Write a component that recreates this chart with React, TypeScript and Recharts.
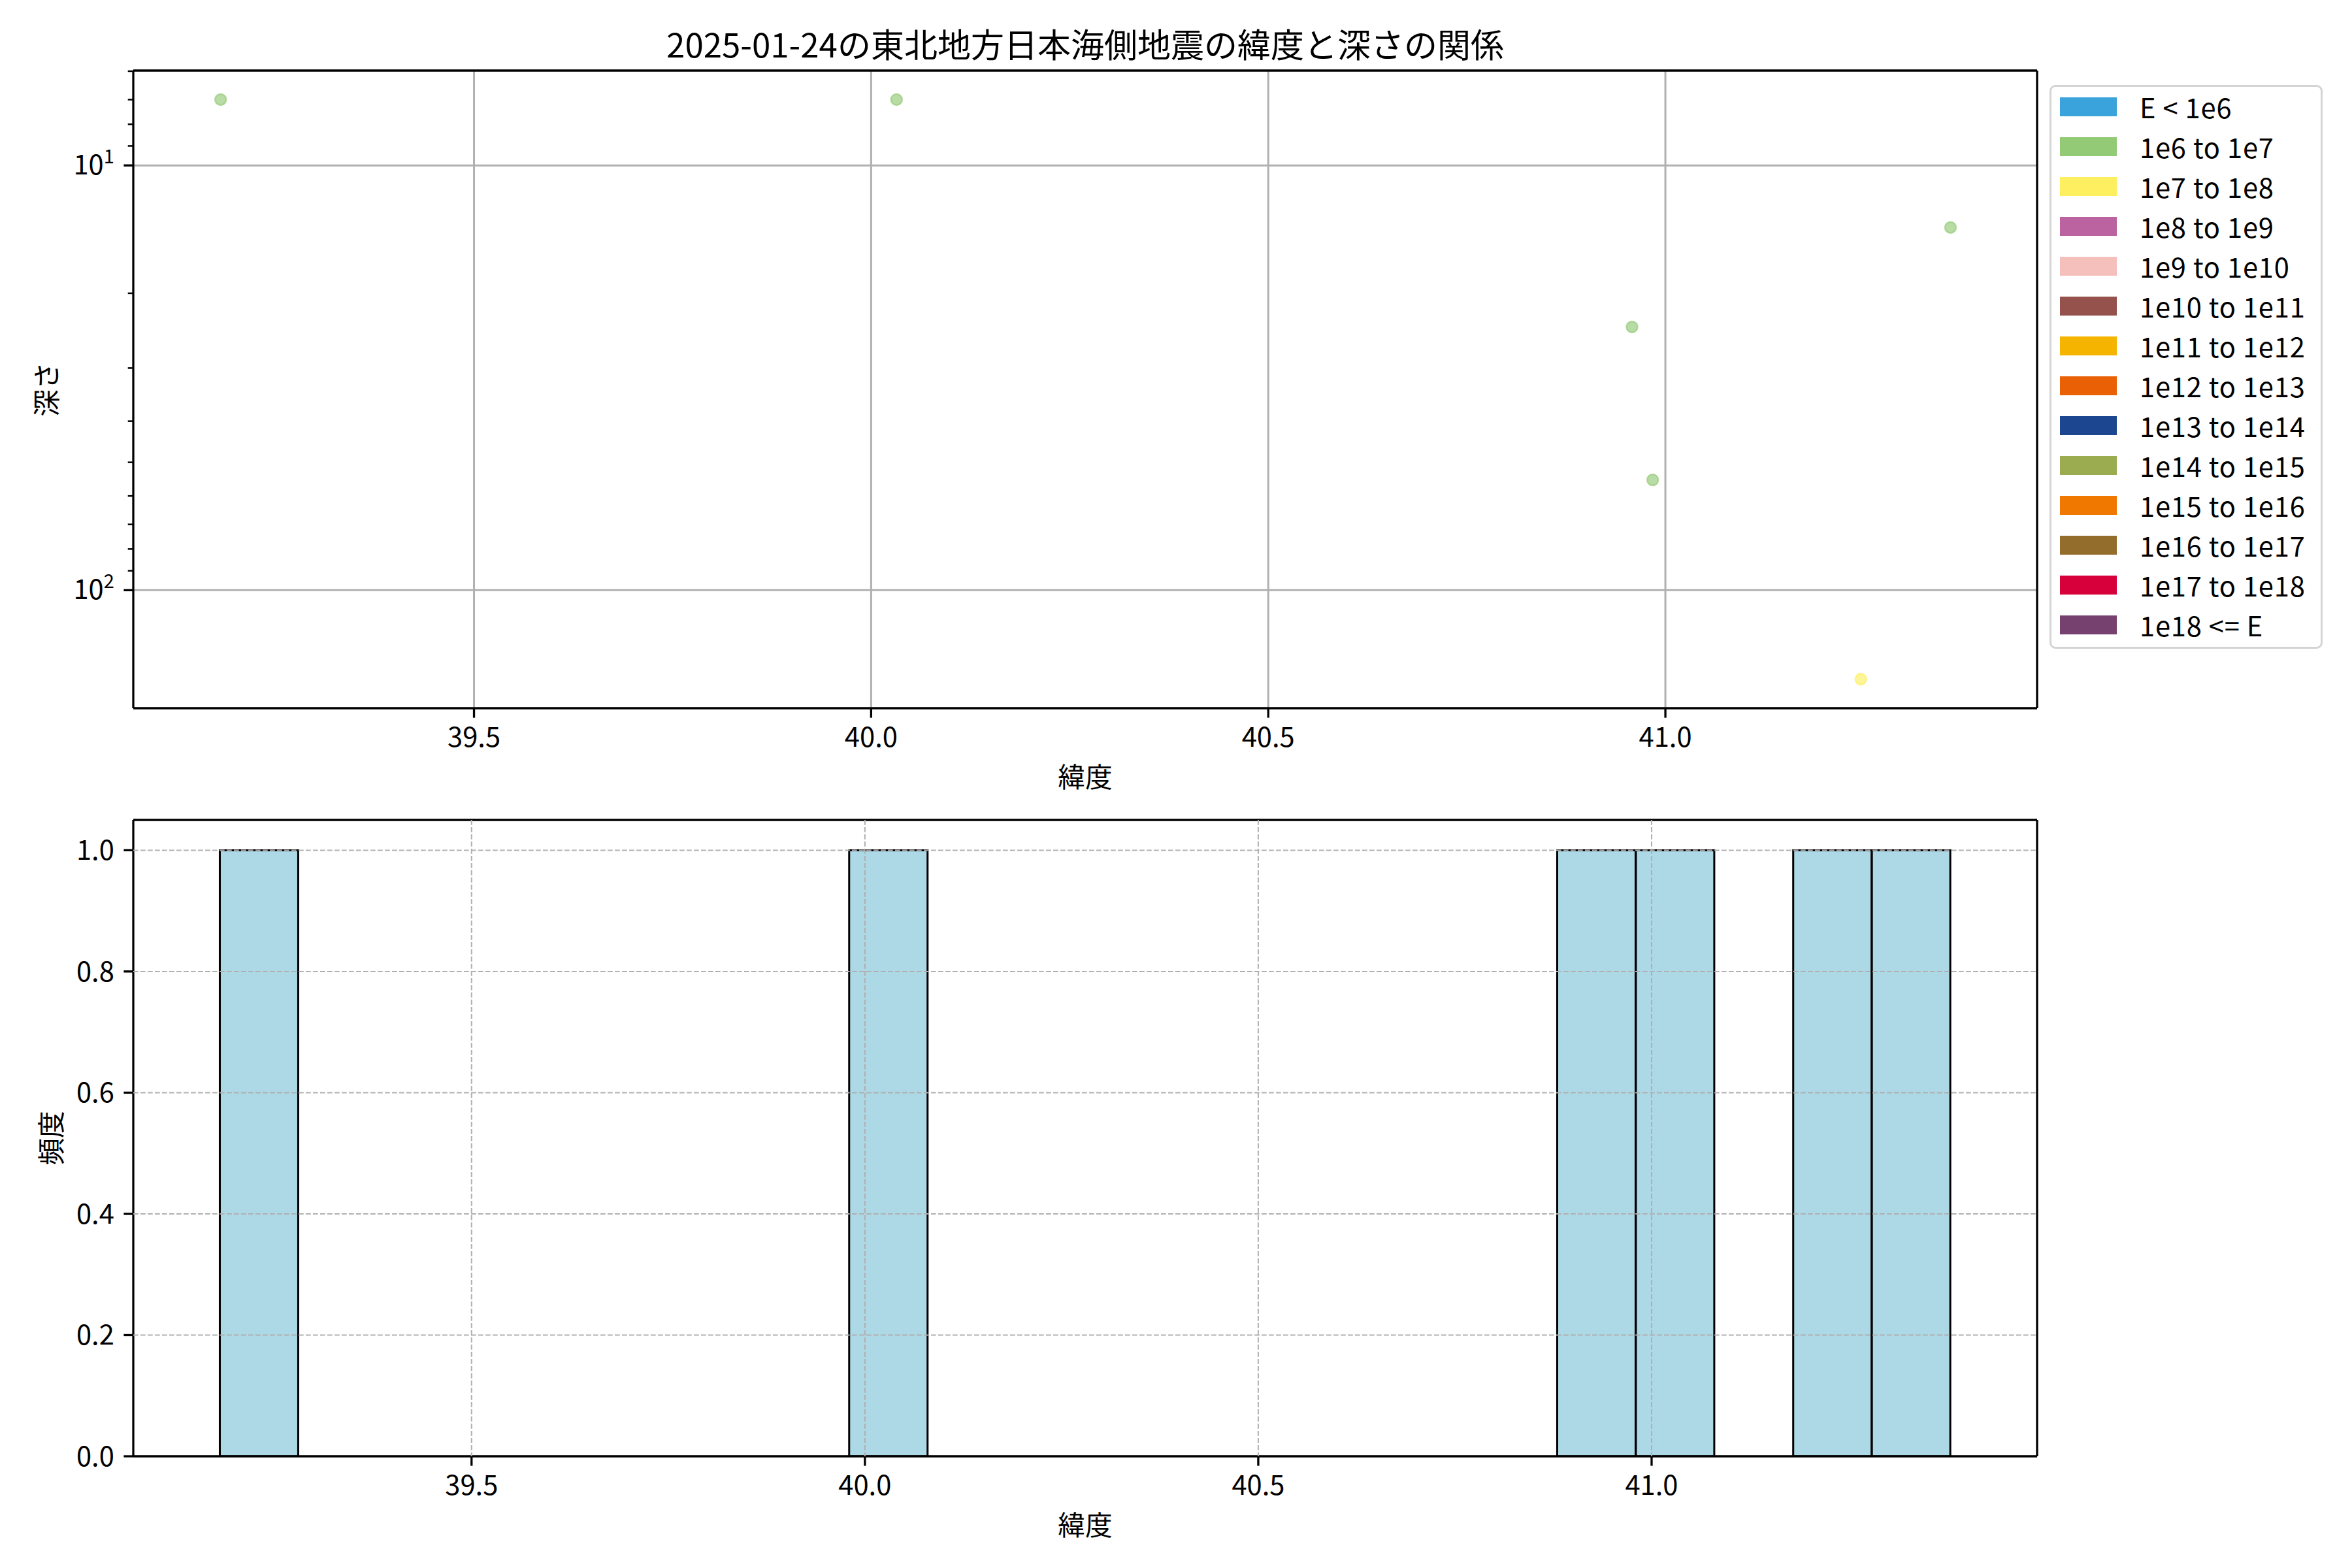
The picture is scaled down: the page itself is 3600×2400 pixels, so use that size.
import React from 'react';
import {
  ScatterChart,
  Scatter,
  ComposedChart,
  Bar,
  XAxis,
  YAxis,
  CartesianGrid,
  ReferenceLine,
} from 'recharts';

const FONT = '"Noto Sans CJK JP", "Noto Sans", sans-serif';

// ---- data ----
const titleText = '2025-01-24の東北地方日本海側地震の緯度と深さの関係';

const quakeLatitudes = [39.181, 40.032, 40.958, 40.984, 41.246, 41.359];
const quakeDepths = [7, 7, 24, 55, 162, 14];
// index into energyLabels / energyColors
const quakeEnergyClass = [1, 1, 1, 1, 2, 1];

const energyLabels = [
  'E < 1e6',
  '1e6 to 1e7',
  '1e7 to 1e8',
  '1e8 to 1e9',
  '1e9 to 1e10',
  '1e10 to 1e11',
  '1e11 to 1e12',
  '1e12 to 1e13',
  '1e13 to 1e14',
  '1e14 to 1e15',
  '1e15 to 1e16',
  '1e16 to 1e17',
  '1e17 to 1e18',
  '1e18 <= E',
];
const energyColors = [
  '#3ba3dc',
  '#93ca76',
  '#feef61',
  '#ba63a0',
  '#f5bfbc',
  '#95524c',
  '#f5b400',
  '#e96005',
  '#1c4690',
  '#9aab50',
  '#f07800',
  '#936d2b',
  '#d7003a',
  '#77416f',
];

const latTicks = [39.5, 40.0, 40.5, 41.0];
const depthMajorTicks = [10, 100];
const depthMinorTicks = [6, 7, 8, 9, 20, 30, 40, 50, 60, 70, 80, 90];

const histBinStart = 39.18;
const histBinWidth = 0.1;
const histCounts = [1, 0, 0, 0, 0, 0, 0, 0, 1, 0, 0, 0, 0, 0, 0, 0, 0, 1, 1, 0, 1, 1];
const freqTicks = [0, 0.2, 0.4, 0.6, 0.8, 1.0];

// axis ranges
const scatterLatDomain = [39.071, 41.468];
const depthDomain = [5.98, 189.6];
const histLatDomain = [39.07, 41.49];
const freqDomain = [0, 1.05];

// ---- derived tables ----
const quakePoints = quakeLatitudes.map((lat, i) => ({
  lat,
  depth: quakeDepths[i],
  cls: quakeEnergyClass[i],
}));

const histBins = histCounts.map((count, i) => ({
  mid: histBinStart + (i + 0.5) * histBinWidth,
  count,
}));

const depthTicks = [...depthMinorTicks, ...depthMajorTicks].sort((a, b) => a - b);
// the baseline grid line sits under the bottom spine
const freqGridValues = freqTicks.filter((v) => v > 0);

// ---- styling constants ----
const TICK_FS = 41.7;
const SPINE = 3.3;
const MAJOR_LEN = 14.6;
const MINOR_LEN = 8.3;
const superscripts: Record<number, string> = { 10: '1', 100: '2' };

const spineStyle = { stroke: '#000', strokeWidth: SPINE };
const tickStyle = { fill: '#000', fontSize: TICK_FS, fontFamily: FONT };

const LogDepthTick = (props: any) => {
  const { x, y, payload } = props;
  const v = payload.value;
  const major = depthMajorTicks.includes(v);
  const len = major ? MAJOR_LEN : MINOR_LEN;
  return (
    <g>
      <line
        x1={x - len}
        x2={x}
        y1={y}
        y2={y}
        stroke="#000"
        strokeWidth={major ? SPINE : 2.5}
      />
      {major && (
        <text
          x={x - 2 * MAJOR_LEN}
          y={y + 14}
          textAnchor="end"
          fontSize={TICK_FS}
          fontFamily={FONT}
          fill="#000"
        >
          <tspan>10</tspan>
          <tspan fontSize={29} dy={-17}>
            {superscripts[v]}
          </tspan>
        </text>
      )}
    </g>
  );
};

const xTitle = (text: string) => (props: any) => {
  const vb = props.viewBox;
  return (
    <text
      x={vb.x + vb.width / 2}
      y={vb.y + 103}
      textAnchor="middle"
      dominantBaseline="central"
      fontSize={TICK_FS}
      fontFamily={FONT}
      fill="#000"
    >
      {text}
    </text>
  );
};

const yTitle = (text: string, cx: number) => (props: any) => {
  const vb = props.viewBox;
  const cy = vb.y + vb.height / 2;
  return (
    <text
      x={cx}
      y={cy}
      textAnchor="middle"
      dominantBaseline="central"
      fontSize={TICK_FS}
      fontFamily={FONT}
      fill="#000"
      transform={`rotate(-90 ${cx} ${cy})`}
    >
      {text}
    </text>
  );
};

const QuakeDot = (props: any) => {
  const { cx, cy, payload } = props;
  const c = energyColors[payload.cls];
  return (
    <circle
      cx={cx}
      cy={cy}
      r={8.5}
      fill={c}
      fillOpacity={0.65}
      stroke={c}
      strokeOpacity={0.65}
      strokeWidth={2.5}
    />
  );
};

const EnergyLegend = () => (
  <div
    style={{
      position: 'absolute',
      left: 3137,
      top: 130,
      width: 412,
      height: 857,
      border: '3px solid #d4d4d4',
      borderRadius: 9,
      background: '#fff',
      fontFamily: FONT,
      fontSize: TICK_FS,
      color: '#000',
    }}
  >
    {energyLabels.map((label, i) => (
      <div
        key={label}
        style={{
          position: 'absolute',
          left: 13,
          top: i * 61,
          height: 61,
          display: 'flex',
          alignItems: 'center',
          whiteSpace: 'nowrap',
        }}
      >
        <div style={{ width: 87, height: 29, background: energyColors[i] }} />
        <span style={{ marginLeft: 35, lineHeight: '61px', letterSpacing: 0.8 }}>
          {label}
        </span>
      </div>
    ))}
  </div>
);

export default function App() {
  return (
    <div
      style={{
        position: 'absolute',
        left: 0,
        top: 0,
        width: 3600,
        height: 2400,
        background: '#fff',
        fontFamily: FONT,
        overflow: 'hidden',
      }}
    >
      <div
        style={{
          position: 'absolute',
          left: 204,
          top: 35,
          width: 2914,
          textAlign: 'center',
          fontSize: 51,
          lineHeight: '62px',
          color: '#000',
        }}
      >
        {titleText}
      </div>

      {/* depth vs latitude scatter */}
      <div style={{ position: 'absolute', left: 0, top: 0 }}>
        <ScatterChart
          width={3600}
          height={1220}
          margin={{ top: 108, right: 482, bottom: 0, left: 0 }}
          style={{ fontFamily: FONT }}
        >
          <CartesianGrid
            xAxisId="x"
            yAxisId="y"
            stroke="#b0b0b0"
            strokeWidth={3}
            verticalValues={latTicks}
            horizontalValues={depthMajorTicks}
          />
          <XAxis
            xAxisId="x"
            dataKey="lat"
            type="number"
            domain={scatterLatDomain}
            allowDataOverflow
            ticks={latTicks}
            interval={0}
            tickFormatter={(v: number) => v.toFixed(1)}
            height={136}
            axisLine={spineStyle}
            tickLine={spineStyle}
            tickSize={MAJOR_LEN}
            tickMargin={MAJOR_LEN}
            tick={tickStyle}
            label={xTitle('緯度')}
          />
          <YAxis
            yAxisId="y"
            dataKey="depth"
            type="number"
            scale="log"
            domain={depthDomain}
            allowDataOverflow
            reversed
            ticks={depthTicks}
            interval={0}
            width={204}
            axisLine={spineStyle}
            tickLine={false}
            tickSize={0}
            tickMargin={0}
            tick={(p: any) => <LogDepthTick {...p} />}
            label={yTitle('深さ', 69)}
          />
          <Scatter
            xAxisId="x"
            yAxisId="y"
            data={quakePoints}
            shape={(p: any) => <QuakeDot {...p} />}
            isAnimationActive={false}
          />
          {/* top and right spines */}
          <ReferenceLine
            xAxisId="x"
            yAxisId="y"
            y={depthDomain[0]}
            stroke="#000"
            strokeWidth={SPINE}
          />
          <ReferenceLine
            xAxisId="x"
            yAxisId="y"
            x={scatterLatDomain[1]}
            stroke="#000"
            strokeWidth={SPINE}
          />
        </ScatterChart>
      </div>

      <EnergyLegend />

      {/* latitude histogram */}
      <div style={{ position: 'absolute', left: 0, top: 1220 }}>
        <ComposedChart
          width={3600}
          height={1180}
          data={histBins}
          margin={{ top: 35, right: 482, bottom: 35, left: 0 }}
          barCategoryGap={0}
          barGap={0}
          style={{ fontFamily: FONT }}
        >
          <XAxis
            xAxisId="x"
            dataKey="mid"
            type="number"
            domain={histLatDomain}
            allowDataOverflow
            ticks={latTicks}
            interval={0}
            tickFormatter={(v: number) => v.toFixed(1)}
            height={136}
            axisLine={spineStyle}
            tickLine={spineStyle}
            tickSize={MAJOR_LEN}
            tickMargin={MAJOR_LEN}
            tick={tickStyle}
            label={xTitle('緯度')}
          />
          <YAxis
            yAxisId="y"
            type="number"
            domain={freqDomain}
            allowDataOverflow
            ticks={freqTicks}
            interval={0}
            tickFormatter={(v: number) => v.toFixed(1)}
            width={204}
            axisLine={spineStyle}
            tickLine={spineStyle}
            tickSize={MAJOR_LEN}
            tickMargin={MAJOR_LEN}
            tick={tickStyle}
            label={yTitle('頻度', 76)}
          />
          <Bar
            xAxisId="x"
            yAxisId="y"
            dataKey="count"
            fill="#add8e6"
            stroke="#000"
            strokeWidth={3}
            isAnimationActive={false}
          />
          <CartesianGrid
            xAxisId="x"
            yAxisId="y"
            stroke="#b0b0b0"
            strokeWidth={2}
            strokeDasharray="7.7 3.3"
            verticalValues={latTicks}
            horizontalValues={freqGridValues}
            zIndex={600}
          />
          {/* top and right spines */}
          <ReferenceLine
            xAxisId="x"
            yAxisId="y"
            y={freqDomain[1]}
            stroke="#000"
            strokeWidth={SPINE}
          />
          <ReferenceLine
            xAxisId="x"
            yAxisId="y"
            x={histLatDomain[1]}
            stroke="#000"
            strokeWidth={SPINE}
          />
        </ComposedChart>
      </div>
    </div>
  );
}
